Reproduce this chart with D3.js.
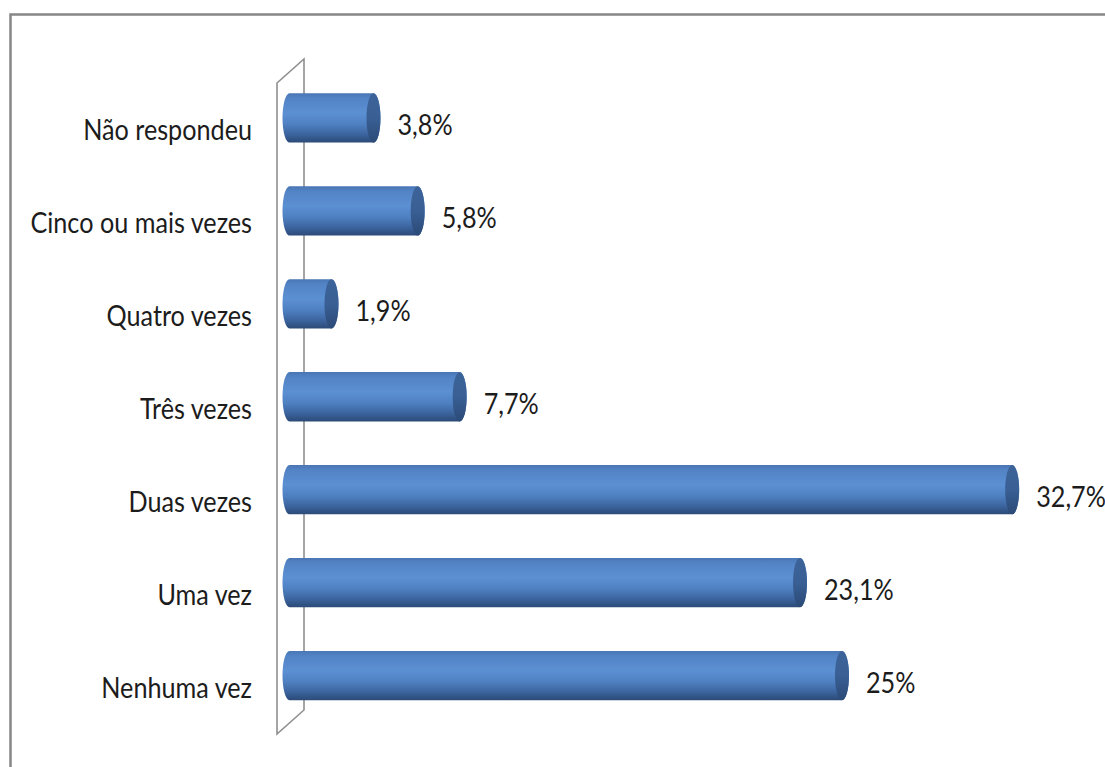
<!DOCTYPE html>
<html>
<head>
<meta charset="utf-8">
<script src="https://cdn.jsdelivr.net/npm/d3@7"></script>
<style>
  html, body { margin: 0; padding: 0; background: #fff; }
  svg { display: block; }
  text { font-family: Lato, "DejaVu Sans Condensed", sans-serif; fill: #1c1c1c; }
</style>
</head>
<body>
<svg id="chart" width="1105" height="767"></svg>
<script>
// Categories, top to bottom, and their percentages
const categories = ["Não respondeu", "Cinco ou mais vezes", "Quatro vezes", "Três vezes", "Duas vezes", "Uma vez", "Nenhuma vez"];
const values = [3.8, 5.8, 1.9, 7.7, 32.7, 23.1, 25];

const W = 1105, H = 767;
const svg = d3.select("#chart");

svg.append("rect").attr("width", W).attr("height", H).attr("fill", "#fff");

// Outer chart frame
svg.append("rect")
  .attr("x", 10.5).attr("y", 14.5)
  .attr("width", 1300).attr("height", 1000)
  .attr("fill", "none").attr("stroke", "#878787").attr("stroke-width", 2.5);

const defs = svg.append("defs");
const bodyGrad = defs.append("linearGradient").attr("id", "cylBody")
  .attr("x1", 0).attr("y1", 0).attr("x2", 0).attr("y2", 1);
[[0, "#4a76b4"], [0.1, "#5283c5"], [0.4, "#5b90d3"], [0.62, "#4f81c2"], [0.82, "#3d66a1"], [1, "#2b4a77"]]
  .forEach(([o, c]) => bodyGrad.append("stop").attr("offset", o).attr("stop-color", c));
const capGrad = defs.append("linearGradient").attr("id", "cylCap")
  .attr("x1", 0).attr("y1", 0).attr("x2", 0).attr("y2", 1);
[[0, "#3d649a"], [0.5, "#395f94"], [1, "#2b4a77"]]
  .forEach(([o, c]) => capGrad.append("stop").attr("offset", o).attr("stop-color", c));

// Scales
const x = d3.scaleLinear().domain([0, 35]).range([289.5, 289.5 + 35 * 22.1]);
const y = d3.scaleBand().domain(categories).range([71.5, 722])
  .paddingInner(0.47).paddingOuter(0.235);

// Side wall of the 3D category axis
const wall = d3.path();
wall.moveTo(277, 83); wall.lineTo(304, 59); wall.lineTo(304, 710);
wall.lineTo(277, 734); wall.closePath();
svg.append("path").attr("d", wall.toString())
  .attr("fill", "none").attr("stroke", "#8f8f8f").attr("stroke-width", 1.6);

const rx = 7;
const data = categories.map((c, i) => ({ c, v: values[i] }));

const bars = svg.append("g").selectAll("g").data(data).join("g");

bars.append("path")
  .attr("fill", "url(#cylBody)")
  .attr("d", d => {
    const x0 = x(0), x1 = x(d.v), t = y(d.c), h = y.bandwidth(), ry = h / 2;
    return `M${x0},${t} L${x1},${t} A${rx},${ry} 0 0 1 ${x1},${t + h} ` +
           `L${x0},${t + h} A${rx},${ry} 0 0 1 ${x0},${t} Z`;
  });

bars.append("ellipse")
  .attr("cx", d => x(d.v))
  .attr("cy", d => y(d.c) + y.bandwidth() / 2)
  .attr("rx", rx)
  .attr("ry", y.bandwidth() / 2)
  .attr("fill", "url(#cylCap)");

// Narrow text: face squeezed horizontally
const squeeze = 0.9;

// Category labels
svg.append("g").selectAll("text").data(data).join("text")
  .attr("transform", d => `translate(252,${y(d.c) + y.bandwidth() / 2 + 22.5}) scale(${squeeze},1)`)
  .attr("text-anchor", "end")
  .attr("font-size", 28)
  .text(d => d.c);

// Value labels
const fmt = v => String(v).replace(".", ",") + "%";
svg.append("g").selectAll("text").data(data).join("text")
  .attr("transform", d => `translate(${x(d.v) + rx + 17},${y(d.c) + y.bandwidth() / 2 + 17.5}) scale(${squeeze},1)`)
  .attr("font-size", 28)
  .text(d => fmt(d.v));
</script>
</body>
</html>
